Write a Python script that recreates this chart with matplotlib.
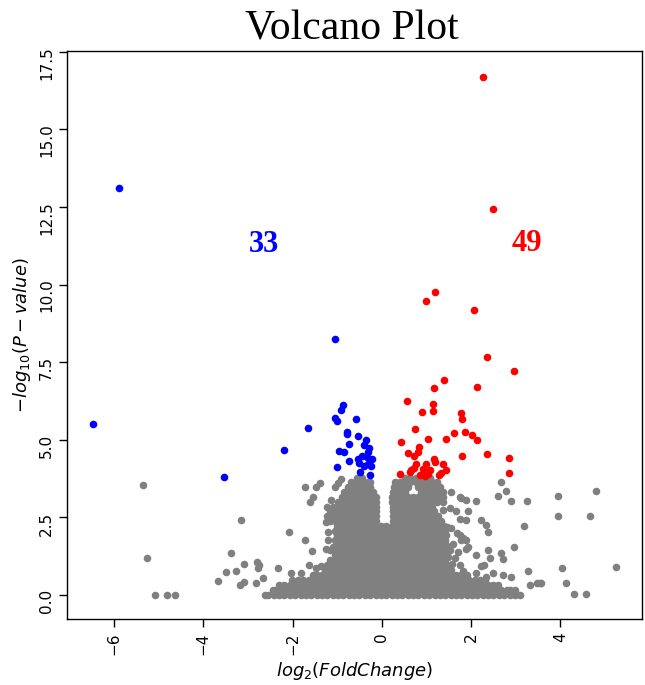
"""
volcano.py
──────────
Volcano plot of differential expression (down: blue, up: red, rest: grey).
"""

import matplotlib
matplotlib.use("Agg")
import matplotlib.pyplot as plt

# ── significant genes ─────────────────────────────────────────────
down_x = [-5.89, -6.46, -1.04, -0.86, -0.92, -1.05, -1.00, -0.58, -1.66, -0.77,
          -0.54, -0.36, -0.74, -0.40, -2.20, -0.96, -0.85, -0.30, -0.34, -0.54,
          -0.74, -0.50, -0.32, -0.24, -1.01, -0.39, -0.48, -0.26, -3.53, -0.45,
          -0.28, -0.77, -0.23]
down_y = [13.13, 5.50, 8.24, 6.13, 5.97, 5.70, 5.61, 5.67, 5.38, 5.24,
          5.12, 4.99, 4.87, 4.82, 4.67, 4.64, 4.62, 4.62, 4.46, 4.39,
          4.31, 4.24, 4.22, 4.17, 4.12, 4.17, 3.97, 3.88, 3.81, 4.48,
          4.74, 5.19, 4.38]

up_x = [2.27, 2.50, 1.18, 1.00, 2.06, 2.36, 2.97, 1.40, 1.17, 2.13,
        0.57, 1.14, 1.15, 0.91, 1.78, 1.80, 0.74, 1.61, 1.86, 2.03,
        2.14, 1.44, 1.04, 0.42, 0.83, 1.80, 2.36, 2.84, 2.84, 0.58,
        0.71, 1.16, 1.18, 1.36, 0.98, 0.77, 0.62, 0.41, 0.92, 1.33,
        1.28, 0.71, 0.85, 0.96, 1.03, 0.66, 0.80, 1.09, 1.43]
up_y = [16.70, 12.43, 9.75, 9.48, 9.20, 7.66, 7.23, 6.94, 6.66, 6.71,
        6.25, 6.16, 5.94, 5.89, 5.86, 5.67, 5.36, 5.23, 5.26, 5.15,
        5.00, 5.02, 5.02, 4.94, 4.78, 4.48, 4.54, 4.41, 3.94, 4.57,
        4.48, 4.37, 4.30, 4.21, 4.21, 4.21, 3.97, 3.90, 4.05, 3.92,
        3.87, 4.08, 3.87, 3.84, 3.89, 4.03, 4.61, 4.03, 4.03]

# ── non-significant genes: saturated core, read row by row ───────
core_y = [0.00, 0.16, 0.32, 0.48, 0.64, 0.80, 0.96, 1.12, 1.28, 1.44,
          1.60, 1.76, 1.92, 2.08, 2.24, 2.40, 2.56, 2.71, 2.85,
          3.01, 3.17, 3.33, 3.49, 3.65, 3.78]
core_x = [
    # 0.00
    [-2.62, -2.54, -2.42, -2.30, -2.18, -2.06, -1.94, -1.82, -1.70, -1.58, -1.46, -1.34,
     -1.22, -1.10, -0.98, -0.86, -0.74, -0.62, -0.50, -0.38, -0.26, -0.14, -0.02, 0.10,
     0.22, 0.34, 0.46, 0.58, 0.70, 0.82, 0.94, 1.06, 1.18, 1.30, 1.42, 1.54, 1.66, 1.78,
     1.90, 2.02, 2.14, 2.26, 2.38, 2.50, 2.62, 2.74, 2.86, 2.98, 3.10],
    # 0.16
    [-2.44, -2.36, -2.24, -2.12, -2.00, -1.88, -1.76, -1.64, -1.52, -1.40, -1.28,
     -1.16, -1.04, -0.92, -0.80, -0.68, -0.56, -0.44, -0.32, -0.20, -0.08, 0.04, 0.16,
     0.28, 0.40, 0.52, 0.64, 0.76, 0.88, 1.00, 1.12, 1.24, 1.36, 1.48, 1.60, 1.72, 1.84,
     1.96, 2.08, 2.20, 2.32, 2.44, 2.56, 2.68, 2.80, 2.86],
    # 0.32
    [-2.30, -2.18, -2.06, -1.94, -1.82, -1.70, -1.58, -1.46, -1.34,
     -1.22, -1.10, -0.98, -0.86, -0.74, -0.62, -0.50, -0.38, -0.26, -0.14, -0.02, 0.10,
     0.22, 0.34, 0.46, 0.58, 0.70, 0.82, 0.94, 1.06, 1.18, 1.30, 1.42, 1.54, 1.66, 1.78,
     1.90, 2.02, 2.14, 2.26, 2.38, 2.50, 2.60],
    # 0.48
    [-2.02, -1.88, -1.76, -1.64, -1.52, -1.40, -1.28,
     -1.16, -1.04, -0.92, -0.80, -0.68, -0.56, -0.44, -0.32, -0.20, -0.08, 0.04, 0.16,
     0.28, 0.40, 0.52, 0.64, 0.76, 0.88, 1.00, 1.12, 1.24, 1.36, 1.48, 1.60, 1.72, 1.84,
     1.96, 2.08, 2.20, 2.32],
    # 0.64
    [-1.54, -1.46, -1.34,
     -1.22, -1.10, -0.98, -0.86, -0.74, -0.62, -0.50, -0.38, -0.26, -0.14, -0.02, 0.10,
     0.22, 0.34, 0.46, 0.58, 0.70, 0.82, 0.94, 1.06, 1.18, 1.30, 1.42, 1.54, 1.66, 1.78,
     1.90],
    # 0.80
    [-1.27, -1.16, -1.04, -0.92, -0.80, -0.68, -0.56, -0.44, -0.32, -0.20, -0.08, 0.04,
     0.16, 0.28, 0.40, 0.52, 0.64, 0.76, 0.88, 1.00, 1.12, 1.24, 1.36, 1.48, 1.56],
    # 0.96
    [-1.22, -1.10, -0.98, -0.86, -0.74, -0.62, -0.50, -0.38, -0.26, -0.14, -0.02, 0.10,
     0.22, 0.34, 0.46, 0.58, 0.70, 0.82, 0.94, 1.06, 1.18, 1.30, 1.42, 1.46],
    # 1.12
    [-1.16, -1.04, -0.92, -0.80, -0.68, -0.56, -0.44, -0.32, -0.20, -0.08, 0.04, 0.16,
     0.28, 0.40, 0.52, 0.64, 0.76, 0.88, 1.00, 1.12, 1.24, 1.36, 1.42],
    # 1.28
    [-1.05, -0.98, -0.86, -0.74, -0.62, -0.50, -0.38, -0.26, -0.14, -0.02, 0.10,
     0.22, 0.34, 0.46, 0.58, 0.70, 0.82, 0.94, 1.06, 1.18, 1.30, 1.42, 1.45],
    # 1.44
    [-1.04, -0.92, -0.80, -0.68, -0.56, -0.44, -0.32, -0.20, -0.08, 0.04, 0.16,
     0.28, 0.40, 0.52, 0.64, 0.76, 0.88, 1.00, 1.12, 1.24, 1.36, 1.42],
    # 1.60
    [-1.02, -0.98, -0.86, -0.74, -0.62, -0.50, -0.38, -0.26, -0.14, -0.02, 0.10,
     0.22, 0.34, 0.46, 0.58, 0.70, 0.82, 0.94, 1.06, 1.18, 1.30, 1.42, 1.44],
    # 1.76
    [-1.04, -0.92, -0.80, -0.68, -0.56, -0.44, -0.32, -0.20, -0.08, 0.04, 0.16,
     0.28, 0.40, 0.52, 0.64, 0.76, 0.88, 1.00, 1.12, 1.24, 1.36, 1.42],
    # 1.92
    [-1.01, -0.98, -0.86, -0.74, -0.62, -0.50, -0.38, -0.26, -0.14, -0.02, 0.10,
     0.22, 0.34, 0.46, 0.58, 0.70, 0.82, 0.94, 1.06, 1.18, 1.30, 1.42, 1.43],
    # 2.08
    [-1.04, -0.92, -0.80, -0.68, -0.56, -0.44, -0.32, -0.20, -0.08, 0.04, 0.16,
     0.28, 0.40, 0.52, 0.64, 0.76, 0.88, 1.00, 1.12, 1.24, 1.36, 1.41],
    # 2.24
    [-1.00, -0.98, -0.86, -0.74, -0.62, -0.50, -0.38, -0.26, -0.14, -0.02, 0.10,
     0.22, 0.34, 0.46, 0.58, 0.70, 0.82, 0.94, 1.06, 1.18, 1.30, 1.40],
    # 2.40
    [-1.16, -1.04, -0.92, -0.80, -0.68, -0.56, -0.44, -0.32, -0.20, -0.14,
     0.24, 0.28, 0.40, 0.52, 0.64, 0.76, 0.88, 1.00, 1.12, 1.24, 1.33],
    # 2.56
    [-1.22, -1.10, -0.98, -0.86, -0.74, -0.62, -0.50, -0.38, -0.26, -0.14,
     0.24, 0.34, 0.46, 0.58, 0.70, 0.82, 0.94, 1.06, 1.18, 1.25],
    # 2.71
    [-1.16, -1.04, -0.92, -0.80, -0.68, -0.56, -0.44, -0.32, -0.20, -0.14,
     0.24, 0.28, 0.40, 0.52, 0.64, 0.76, 0.88, 1.00, 1.12, 1.16],
    # 2.85
    [-1.22, -1.10, -0.98, -0.86, -0.74, -0.62, -0.50, -0.38, -0.26, -0.14,
     0.24, 0.34, 0.46, 0.58, 0.70, 0.82, 0.94, 1.06, 1.12],
    # 3.01
    [-0.98, -0.92, -0.80, -0.68, -0.56, -0.44, -0.32, -0.20, -0.14,
     0.22, 0.28, 0.40, 0.52, 0.64, 0.76, 0.88, 1.00, 1.12, 1.24, 1.36],
    # 3.17
    [-0.90, -0.86, -0.74, -0.62, -0.50, -0.38, -0.26, -0.14,
     0.22, 0.34, 0.46, 0.58, 0.70, 0.82, 0.94, 1.06, 1.18, 1.30, 1.36],
    # 3.33
    [-0.84, -0.80, -0.68, -0.56, -0.44, -0.32, -0.20,
     0.24, 0.28, 0.40, 0.52, 0.88, 1.00, 1.12, 1.24, 1.36],
    # 3.49
    [-0.76, -0.74, -0.62, -0.50, -0.38, -0.26,
     0.28, 0.34, 0.46, 0.58, 0.82, 0.94, 1.06, 1.18, 1.30],
    # 3.65
    [-0.68, -0.56, -0.44, -0.32, -0.26,
     0.30, 0.40, 0.52, 0.64, 0.76, 0.88, 1.00, 1.12, 1.24],
    # 3.78
    [-0.56, -0.44, 0.52, 0.64, 0.76, 0.98, 1.08],
]

# scattered grey points outside the core
side_x = [-5.36, -5.26, -5.08, -4.81, -4.63, -3.16, -3.37, -3.08, -2.79, -2.77,
          -3.48, -3.26, -3.67, -3.18, -3.08, -2.81, -2.67, -2.74, -2.33, -2.03,
          -1.82, -1.63, -1.47, -1.36, -2.07, -1.73, -1.56, -1.71, -1.47, -1.39,
          -1.60, -1.54, -1.04, -0.98, -0.92, -1.13, -1.24, -1.21, -1.21, -1.17,
          -1.10, -1.26,
          1.33, 1.55, 1.74, 1.89, 2.12, 1.77, 2.66, 2.79, 2.60, 2.90,
          3.25, 3.95, 4.79, 3.95, 4.66, 3.18, 2.96, 3.28, 4.04, 5.24,
          4.12, 4.30, 4.57, 3.31, 3.47, 3.56, 1.37, 1.52, 1.67, 1.93,
          1.74, 1.89, 1.45, 1.56, 1.74, 1.78, 1.89, 1.93, 1.52, 1.48,
          1.63, 2.12, 2.38, 2.42, 2.66, 2.72, 1.74, 1.82, 2.22, 2.29,
          2.23, 2.34, 2.38, 1.88, 1.82, 2.49, 2.72, 2.90, 3.54, 2.98,
          2.34, 2.12, 1.68, 1.60, 1.70, 1.58]
side_y = [3.55, 1.19, 0.00, 0.00, 0.00, 2.42, 1.34, 0.99, 1.07, 0.86,
          0.73, 0.77, 0.45, 0.34, 0.43, 0.38, 0.56, 0.97, 0.88, 0.72,
          0.72, 0.97, 0.88, 0.93, 2.02, 1.77, 1.42, 3.49, 3.49, 3.60,
          3.01, 3.15, 3.49, 3.60, 3.73, 3.06, 2.36, 2.04, 1.77, 1.45,
          1.56, 1.50,
          3.22, 3.33, 3.15, 3.06, 3.03, 3.12, 3.65, 3.35, 3.20, 3.03,
          3.03, 3.19, 3.36, 2.55, 2.55, 2.23, 1.54, 0.78, 0.88, 0.91,
          0.40, 0.02, 0.02, 0.32, 0.40, 0.38, 2.74, 2.79, 2.72, 2.72,
          2.44, 2.42, 2.20, 2.15, 1.93, 1.77, 1.77, 1.56, 1.45, 1.23,
          1.18, 1.29, 1.45, 1.18, 1.36, 1.15, 0.97, 0.78, 0.93, 0.97,
          2.42, 2.26, 2.04, 1.50, 1.83, 0.70, 0.64, 0.59, 0.40, 0.16,
          0.59, 0.70, 2.00, 1.65, 1.40, 1.00]

label_down = "33"
label_up = "49"


def main():
    grey_x, grey_y = [], []
    for y, xs in zip(core_y, core_x):
        grey_x += xs
        grey_y += [y] * len(xs)
    grey_x += side_x
    grey_y += side_y

    fig = plt.figure(figsize=(6.45, 6.85), dpi=100)
    ax = fig.add_axes([0.104, 0.0964, 0.8915, 0.8292])

    dot = dict(s=30, linewidths=0)
    ax.scatter(grey_x, grey_y, color="grey", **dot)
    ax.scatter(down_x, down_y, color="blue", **dot)
    ax.scatter(up_x, up_y, color="red", **dot)

    serif = "Liberation Serif"
    ax.text(-2.65, 11.28, label_down, color="blue", fontsize=22, fontweight="bold",
            family=serif, ha="center", va="center")
    ax.text(3.24, 11.32, label_up, color="red", fontsize=22, fontweight="bold",
            family=serif, ha="center", va="center")

    ax.set_xlim(-7.05, 5.83)
    ax.set_ylim(-0.77, 17.53)
    ax.set_xticks([-6, -4, -2, 0, 2, 4])
    ax.set_yticks([0, 2.5, 5, 7.5, 10, 12.5, 15, 17.5])
    ax.tick_params(axis="both", labelsize=11, length=6, width=1, direction="out",
                   labelrotation=90)
    for sp in ax.spines.values():
        sp.set_linewidth(1.0)

    ax.set_xlabel(r"$log_2(FoldChange)$", fontsize=13)
    ax.set_ylabel(r"$-log_{10}(P-value)$", fontsize=13)

    fig.text(0.545, 0.943, "Volcano Plot", ha="center", va="baseline",
             fontsize=30, family=serif)

    fig.savefig("out.png", dpi=100)
    plt.close(fig)


if __name__ == "__main__":
    main()
